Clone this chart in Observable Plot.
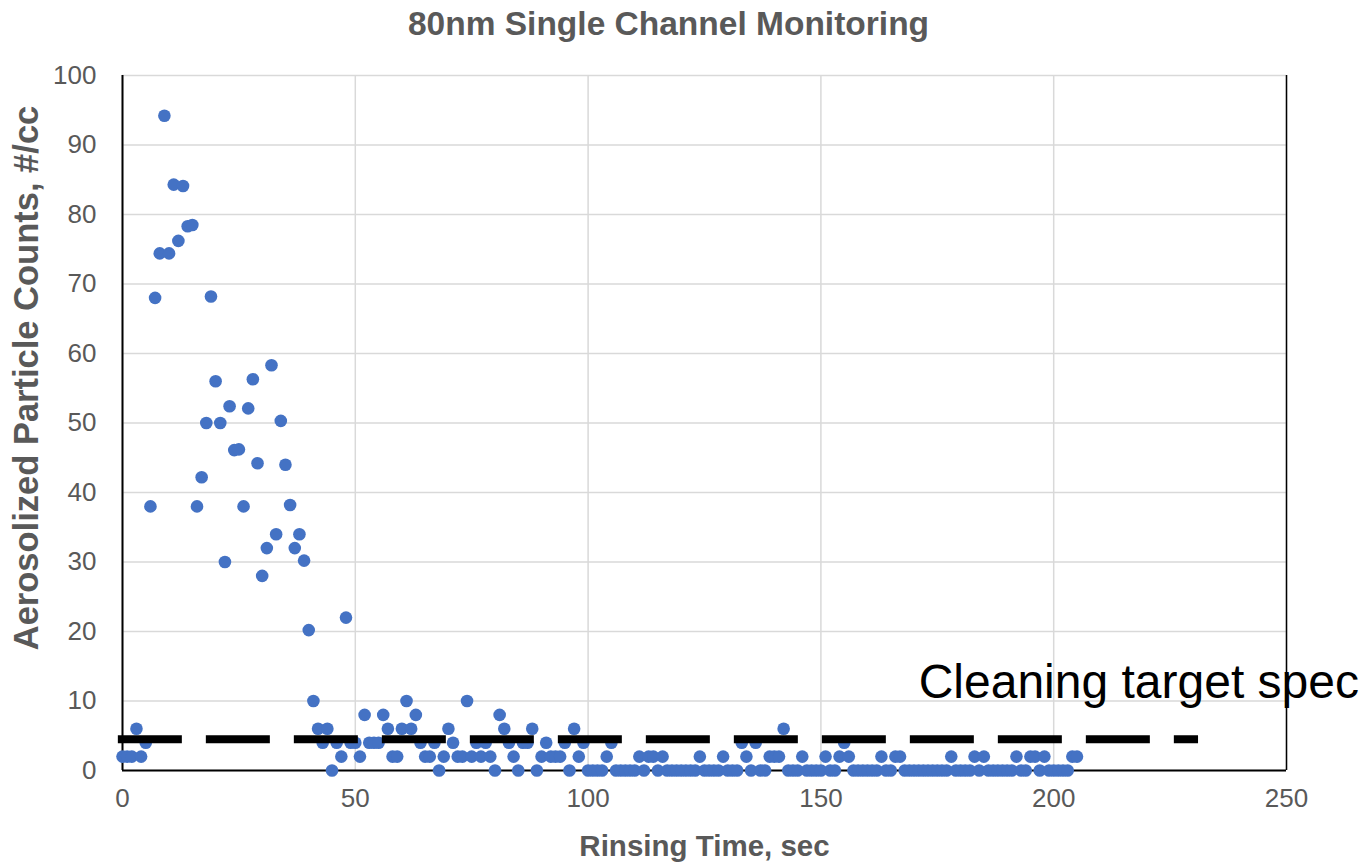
<!DOCTYPE html>
<html><head><meta charset="utf-8">
<script src="https://cdn.jsdelivr.net/npm/d3@7"></script>
<script src="https://cdn.jsdelivr.net/npm/@observablehq/plot@0.6"></script>
<style>
html,body{margin:0;padding:0;background:#fff;}
#chart{width:1367px;height:862px;}
</style></head><body><div id="chart"></div>
<script>
const titleText = "80nm Single Channel Monitoring";
const xLabel = "Rinsing Time, sec";
const yLabel = "Aerosolized Particle Counts, #/cc";
const specLabel = "Cleaning target spec";

const rinseTimes = [
  0,1,2,3,4,5,6,7,8,9,10,11,12,13,14,15,16,17,18,19,
  20,21,22,23,24,25,26,27,28,29,30,31,32,33,34,35,36,37,38,39,
  40,41,42,43,44,45,46,47,48,49,50,51,52,53,54,55,56,57,58,59,
  60,61,62,63,64,65,66,67,68,69,70,71,72,73,74,75,76,77,78,79,
  80,81,82,83,84,85,86,87,88,89,90,91,92,93,94,95,96,97,98,99,
  100,101,102,103,104,105,106,107,108,109,110,111,112,113,114,115,116,117,118,119,
  120,121,122,123,124,125,126,127,128,129,130,131,132,133,134,135,136,137,138,139,
  140,141,142,143,144,145,146,147,148,149,150,151,152,153,154,155,156,157,158,159,
  160,161,162,163,164,165,166,167,168,169,170,171,172,173,174,175,176,177,178,179,
  180,181,182,183,184,185,186,187,188,189,190,191,192,193,194,195,196,197,198,199,
  200,201,202,203,204,205
];
const particleCounts = [
  2,2,2,6,2,4,38,68,74.4,94.2, 74.4,84.3,76.2,84.1,78.3,78.5,38,42.2,50,68.2,
  56,50,30,52.4,46.1,46.2,38,52.1,56.3,44.2, 28,32,58.3,34,50.3,44,38.2,32,34,30.2,
  20.2,10,6,4,6,0,4,2,22,4, 4,2,8,4,4,4,8,6,2,2,
  6,10,6,8,4,2,2,4,0,2, 6,4,2,2,10,2,4,2,4,2,
  0,8,6,4,2,0,4,4,6,0, 2,4,2,2,2,4,0,6,2,4,
  0,0,0,0,2,4,0,0,0,0, 0,2,0,2,2,0,2,0,0,0,
  0,0,0,0,2,0,0,0,0,2, 0,0,0,4,2,0,4,0,0,2,
  2,2,6,0,0,0,2,0,0,0, 0,2,0,0,2,4,2,0,0,0,
  0,0,0,2,0,0,2,2,0,0, 0,0,0,0,0,0,0,0,2,0,
  0,0,0,2,0,2,0,0,0,0, 0,0,2,0,0,2,2,0,2,0,
  0,0,0,0,2,2
];
const specTimes = [-1, 231];
const specValues = [4.5, 4.5];
const specLabelAt = [171, 10.4];
const xTicks = [0, 50, 100, 150, 200, 250];
const yTicks = [0, 10, 20, 30, 40, 50, 60, 70, 80, 90, 100];

const points = rinseTimes.map((t, i) => ({t, c: particleCounts[i]}));
const spec = specTimes.map((t, i) => ({t, c: specValues[i]}));

const gray = "#595959";
const font = "'Liberation Sans', Arial, sans-serif";

const chart = Plot.plot({
  width: 1367, height: 862,
  marginLeft: 122, marginRight: 81, marginTop: 75, marginBottom: 92,
  style: {fontFamily: font, background: "#fff", overflow: "visible"},
  x: {domain: [0, 250], label: null},
  y: {domain: [0, 100], label: null},
  marks: [
    Plot.gridY(yTicks, {stroke: "#d9d9d9", strokeOpacity: 1, strokeWidth: 1.5}),
    Plot.gridX(xTicks, {stroke: "#d9d9d9", strokeOpacity: 1, strokeWidth: 1.5}),
    Plot.axisY(yTicks, {tickSize: 0, tickPadding: 26, fontSize: 26, fill: gray, label: null}),
    Plot.axisX(xTicks, {tickSize: 0, tickPadding: 18, fontSize: 26, fill: gray, label: null}),
    Plot.ruleX([250], {stroke: "#000", strokeWidth: 1.5}),
    Plot.ruleX([0], {stroke: "#000", strokeWidth: 2}),
    Plot.ruleY([0], {stroke: "#000", strokeWidth: 2}),
    Plot.dot(points, {x: "t", y: "c", r: 6.3, fill: "#4472C4"}),
    Plot.line(spec, {x: "t", y: "c", stroke: "#000", strokeWidth: 8, strokeDasharray: "64,24", strokeLinecap: "butt"}),
    Plot.text([specLabel], {x: specLabelAt[0], y: specLabelAt[1], text: d => d, textAnchor: "start", lineAnchor: "bottom", fontSize: 48, fill: "#000"}),
    Plot.text([titleText], {frameAnchor: "top", text: d => d, dx: -36, dy: -41, lineAnchor: "bottom", fontSize: 33.5, fontWeight: "bold", fill: gray}),
    Plot.text([xLabel], {frameAnchor: "bottom", text: d => d, dy: 85, lineAnchor: "bottom", fontSize: 29.5, fontWeight: "bold", fill: gray}),
    Plot.text([yLabel], {frameAnchor: "left", text: d => d, rotate: -90, textAnchor: "middle", dx: -85, dy: -45, lineAnchor: "bottom", fontSize: 34.5, fontWeight: "bold", fill: gray})
  ]
});
document.getElementById("chart").appendChild(chart);
</script></body></html>
